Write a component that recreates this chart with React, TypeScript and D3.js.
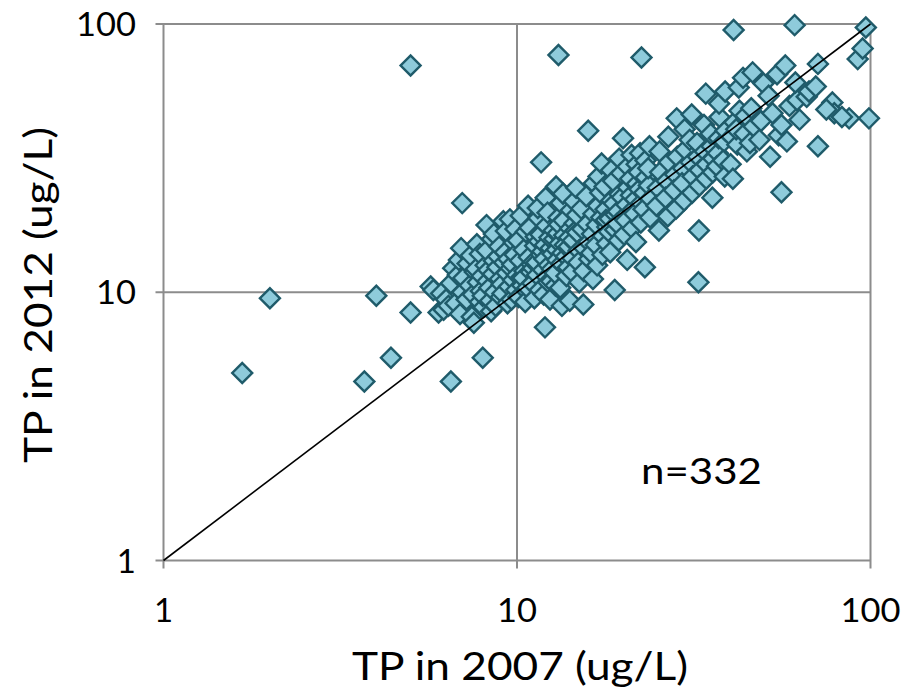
import React, { useEffect } from "react";
import * as d3 from "d3";

// Tick values / labels
const xTicks = [1, 10, 100];
const yTicks = [1, 10, 100];
const xTitle = "TP in 2007 (ug/L)";
const yTitle = "TP in 2012 (ug/L)";
const nLabel = "n=332";

// Points [TP 2007, TP 2012], grouped by TP 2007 range
const outliers: [number, number][] = [
  [1.67, 5.0], [2.0, 9.5], [3.7, 4.65], [4.0, 9.7], [4.4, 5.7], [5.0, 70], [5.0, 8.4],
  [5.7, 10.5], [6.0, 8.4], [6.5, 4.65], [8.0, 5.7], [7.0, 21.5], [12.0, 7.4], [13.1, 76.6],
  [22.5, 75], [32.6, 10.9], [41, 95], [61, 99], [97, 97], [92, 74], [99, 44.5], [87, 44.5],
  [71, 35], [56, 23.6], [78, 51], [79, 46.5], [95, 81],
];
const bin5to7: [number, number][] = [
  [5.8, 10.2], [6.1, 9.9], [6.2, 8.6], [6.3, 9.4], [6.4, 8.9], [6.5, 10.8],
  [6.6, 12.3], [6.7, 9.1], [6.8, 11.6], [6.9, 8.3], [6.85, 13.2], [7.0, 10.0],
];
const bin7to10: [number, number][] = [
  [7.05, 11.3], [7.2, 9.4], [6.95, 14.6], [7.35, 10.6], [7.25, 12.8], [7.45, 8.1],
  [7.5, 9.8], [7.6, 11.9], [7.4, 13.7], [7.55, 7.7], [7.75, 10.9], [7.65, 12.2],
  [7.85, 9.2], [7.7, 15.1], [7.95, 11.5], [8.05, 8.8], [7.85, 13.9], [7.9, 10.1],
  [8.15, 12.6], [8.0, 9.7], [8.2, 17.8], [8.25, 11.0], [8.35, 10.4], [8.2, 14.3],
  [8.45, 8.5], [8.3, 12.1], [8.55, 11.7], [8.4, 9.3], [8.6, 13.1], [8.5, 15.8],
  [8.65, 10.0], [8.8, 12.4], [8.7, 8.9], [8.6, 16.5], [8.95, 11.2], [8.85, 13.6],
  [9.0, 9.6], [8.9, 14.8], [9.05, 10.7], [9.2, 12.9], [9.15, 18.4], [9.1, 9.9],
  [9.35, 11.8], [9.25, 14.1], [9.4, 9.1], [9.3, 16.9], [9.5, 10.5], [9.6, 12.3],
  [9.45, 13.3], [9.55, 18.7], [9.75, 11.1], [9.65, 9.4], [9.8, 15.3], [9.7, 12.7],
  [9.95, 10.2], [9.85, 13.8], [10.0, 11.6], [9.9, 17.2],
];
const bin10to15: [number, number][] = [
  [10.1, 9.6], [10.3, 11.4], [10.2, 13.1], [10.05, 15.6], [10.35, 10.6], [10.25, 19.3],
  [10.5, 12.0], [10.65, 10.1], [10.45, 14.4], [10.6, 16.8], [10.4, 11.3], [10.55, 9.2],
  [10.8, 13.5], [10.95, 11.9], [10.7, 10.4], [10.85, 17.4], [11.0, 12.7], [10.75, 21.0],
  [11.1, 12.3], [11.25, 14.9], [11.05, 10.8], [11.2, 9.5], [11.3, 16.1], [11.15, 13.0],
  [11.4, 11.6], [11.55, 15.5], [11.35, 12.9], [11.5, 18.9], [11.6, 10.2], [11.45, 20.6],
  [11.7, 13.8], [11.85, 12.1], [11.65, 16.4], [11.9, 9.8], [11.8, 14.2], [11.7, 30.5],
  [12.0, 15.0], [12.15, 11.4], [11.95, 13.3], [12.1, 17.7], [12.25, 10.9], [12.05, 22.5],
  [12.3, 12.6], [12.45, 14.6], [12.35, 16.0], [12.5, 11.0], [12.2, 19.8], [12.4, 9.4],
  [12.6, 13.9], [12.75, 15.8], [12.55, 12.2], [12.7, 17.0], [12.85, 10.6], [12.9, 24.8],
  [12.95, 14.4], [13.05, 16.6], [12.8, 11.8], [13.1, 19.0], [13.0, 13.2], [13.4, 8.9],
  [13.2, 15.2], [13.35, 12.8], [13.15, 17.9], [13.45, 14.0], [13.3, 21.5], [13.25, 10.4],
  [13.6, 16.3], [13.75, 13.6], [13.55, 18.5], [13.8, 11.5], [13.65, 15.0], [13.5, 23.3],
  [14.0, 14.8], [14.15, 17.3], [13.95, 12.4], [14.2, 20.2], [14.05, 16.0], [14.1, 9.3],
  [14.4, 15.6], [14.55, 18.1], [14.35, 13.4], [14.5, 21.8], [14.3, 11.9], [14.65, 17.0],
  [14.8, 16.7], [14.95, 14.3], [14.75, 19.4], [14.9, 12.9], [14.7, 24.5], [15.0, 10.9],
];
const bin15to25: [number, number][] = [
  [15.3, 17.2], [15.5, 14.6], [15.2, 20.5], [15.45, 12.0], [15.4, 9.0],
  [15.8, 18.0], [15.95, 15.4], [15.7, 22.8], [16.0, 13.3], [15.9, 40.0],
  [16.3, 16.5], [16.45, 19.6], [16.2, 14.0], [16.5, 25.5], [16.4, 11.2],
  [16.8, 17.8], [16.95, 21.0], [16.7, 15.0], [17.0, 27.0], [16.85, 12.6],
  [17.3, 19.0], [17.5, 16.2], [17.2, 23.5], [17.45, 13.8], [17.35, 30.2],
  [17.8, 20.4], [18.0, 17.5], [17.7, 24.8], [17.95, 15.2], [17.85, 18.6],
  [18.3, 18.8], [18.5, 22.0], [18.2, 16.8], [18.45, 28.5], [18.35, 14.1],
  [18.8, 21.4], [19.0, 19.5], [18.7, 26.0], [18.95, 17.1], [18.9, 10.2],
  [19.3, 20.0], [19.5, 23.2], [19.2, 18.0], [19.45, 31.5], [19.4, 15.6],
  [19.8, 22.6], [20.0, 19.0], [19.7, 27.8], [20.1, 16.4], [19.95, 37.5],
  [20.4, 21.2], [20.6, 24.6], [20.3, 18.5], [20.55, 29.4], [20.5, 13.2],
  [21.0, 23.0], [21.25, 20.3], [20.9, 26.5], [21.2, 17.3], [21.1, 32.5],
  [21.6, 22.2], [21.85, 25.4], [21.5, 19.6], [21.8, 30.0], [21.7, 15.4],
  [22.2, 24.2], [22.45, 21.5], [22.1, 28.0], [22.4, 18.2], [22.3, 33.0],
  [22.9, 23.5], [23.15, 26.8], [22.8, 20.4], [23.1, 31.0], [23.0, 12.4],
  [23.6, 25.0], [23.85, 22.3], [23.5, 29.0], [23.8, 19.0], [23.7, 35.0],
];
const bin25to40: [number, number][] = [
  [25.0, 24.5], [25.4, 28.0], [24.8, 21.0], [25.3, 33.5], [25.2, 17.0],
  [26.5, 26.0], [26.9, 30.5], [26.3, 22.5], [26.8, 38.0], [26.7, 19.2],
  [28.0, 27.5], [28.4, 32.0], [27.8, 24.0], [28.3, 44.5], [28.2, 20.5],
  [29.5, 29.0], [29.9, 34.0], [29.3, 25.5], [29.8, 40.5], [29.7, 22.0],
  [31.0, 30.5], [31.4, 27.0], [30.8, 37.0], [31.3, 23.5], [31.2, 46.0],
  [32.5, 32.0], [32.9, 28.5], [32.3, 36.0], [32.8, 25.0], [32.7, 17.0],
  [34.0, 33.5], [34.4, 30.0], [33.8, 42.0], [34.3, 26.5], [34.2, 55.0],
  [35.5, 35.0], [35.9, 31.5], [35.3, 39.0], [35.8, 28.0], [35.7, 22.5],
  [37.0, 33.0], [37.4, 45.0], [36.8, 29.5], [37.3, 50.5], [37.2, 37.5],
  [38.5, 36.5], [38.9, 40.0], [38.3, 31.0], [38.8, 56.0], [38.7, 27.0],
];
const bin40to100: [number, number][] = [
  [40.5, 38.0], [41.2, 43.0], [40.2, 30.0], [40.8, 26.5],
  [42.0, 35.5], [42.6, 47.5], [41.7, 40.5], [42.4, 58.0],
  [44.0, 39.0], [44.7, 33.5], [43.6, 63.0], [44.3, 45.5],
  [46.0, 48.5], [46.7, 41.5], [45.6, 36.0], [46.4, 66.0],
  [49.0, 43.5], [49.8, 60.0], [48.5, 37.0],
  [52.0, 32.0], [52.8, 46.5], [51.5, 54.0],
  [55.0, 38.5], [56.0, 42.0], [54.4, 65.0],
  [58.0, 36.5], [59.0, 49.5], [57.4, 70.0],
  [62.0, 52.0], [63.0, 44.0], [61.3, 60.5],
  [66.0, 53.5], [67.0, 56.0], [70.0, 58.5], [71.0, 71.0], [75.0, 48.0], [83.0, 45.0],
];

const W = 916;
const H = 694;
const FONT = "Lato, 'Open Sans', sans-serif";

export default function App() {
  useEffect(() => {
    document.body.style.margin = "0";
  }, []);

  const x = d3.scaleLog().domain([1, 100]).range([163.5, 870.5]);
  const y = d3.scaleLog().domain([1, 100]).range([560.5, 24]);

  const points: [number, number][] = [
    ...outliers, ...bin5to7, ...bin7to10, ...bin10to15, ...bin15to25, ...bin25to40, ...bin40to100,
  ];

  const diamond = d3.symbol().type(d3.symbolSquare).size(200)()!;
  const grid = "#8c8c8c";
  const [x0, x1] = x.range();
  const [y0, y1] = y.range();
  const tickLen: Record<string, number | undefined> = { "100": 60, "10": 40 };

  return (
    <svg width={W} height={H} style={{ display: "block" }}>
      <rect width={W} height={H} fill="#fff" />
      {xTicks.map((t) => (
        <line key={"gx" + t} x1={x(t)} x2={x(t)} y1={y1} y2={y0 + 8} stroke={grid} strokeWidth={2} />
      ))}
      {yTicks.map((t) => (
        <line key={"gy" + t} x1={x0 - 8} x2={x1} y1={y(t)} y2={y(t)} stroke={grid} strokeWidth={2} />
      ))}
      {points.map(([a, b], i) => (
        <path
          key={i}
          d={diamond}
          transform={`translate(${x(a)},${y(b)}) rotate(45)`}
          fill="#8ECBDB"
          stroke="#1F5B6A"
          strokeWidth={2.4}
        />
      ))}
      <line x1={x(1)} y1={y(1)} x2={x(100)} y2={y(100)} stroke="#000" strokeWidth={1.6} />
      {xTicks.map((t) => (
        <text key={"tx" + t} x={x(t)} y={622} textAnchor="middle" fontFamily={FONT} fontSize={33} fill="#000"
          textLength={tickLen[String(t)]} lengthAdjust="spacingAndGlyphs">
          {t}
        </text>
      ))}
      {yTicks.map((t) => (
        <text key={"ty" + t} x={136} y={y(t) + 12} textAnchor="end" fontFamily={FONT} fontSize={33} fill="#000"
          textLength={tickLen[String(t)]} lengthAdjust="spacingAndGlyphs">
          {t}
        </text>
      ))}
      <text x={520} y={680} textAnchor="middle" fontFamily={FONT} fontSize={38} fill="#000"
        textLength={336} lengthAdjust="spacingAndGlyphs">
        {xTitle}
      </text>
      <text transform="translate(52,295) rotate(-90)" textAnchor="middle" fontFamily={FONT} fontSize={38} fill="#000"
        textLength={336} lengthAdjust="spacingAndGlyphs">
        {yTitle}
      </text>
      <text x={641} y={484} fontFamily={FONT} fontSize={37} fill="#000" textLength={121} lengthAdjust="spacingAndGlyphs">
        {nLabel}
      </text>
    </svg>
  );
}
